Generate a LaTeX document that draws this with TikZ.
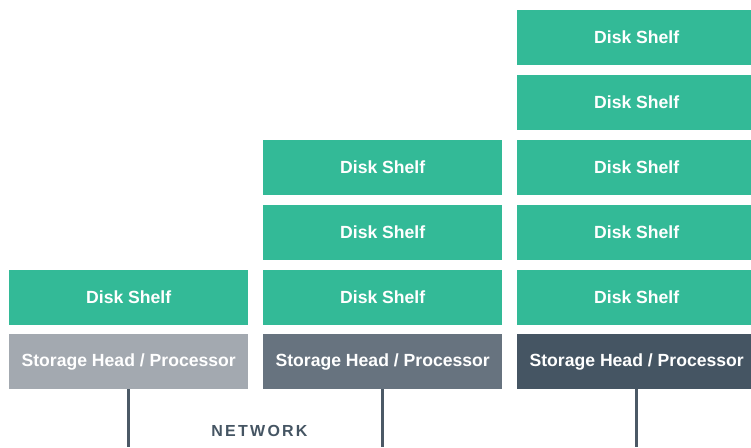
\documentclass[tikz,border=0pt]{standalone}
\usepackage{fontspec}
\setmainfont{Liberation Sans}
\definecolor{shelfgreen}{HTML}{33BA97}
\definecolor{headlight}{HTML}{A3A9B0}
\definecolor{headmid}{HTML}{67737F}
\definecolor{headdark}{HTML}{455563}
\definecolor{netcol}{HTML}{4B5966}
\begin{document}
\begin{tikzpicture}[x=1pt,y=-1pt,font=\bfseries\fontsize{17.6}{19}\selectfont,
	shelf/.style={fill=shelfgreen,text=white,minimum width=239pt,minimum height=55pt,inner sep=0pt,anchor=north west},
	head/.style={shelf,fill=#1},
	netline/.style={draw=netcol,line width=3pt}]
			\useasboundingbox (0,0) rectangle (751,447);
			\clip (0,0) rectangle (751,447);
			% storage heads
			\node[head=headlight] (h1) at (9,334) {Storage Head / Processor};
			\node[head=headmid] (h2) at (263,334) {Storage Head / Processor};
			\node[head=headdark] (h3) at (517,334) {Storage Head / Processor};
			% disk shelves
			\node[shelf] (a1) at (9,270) {Disk Shelf};
			\foreach \i in {1,2,3} \node[shelf] (b\i) at (263,{270-65*(\i-1)}) {Disk Shelf};
			\foreach \i in {1,...,5} \node[shelf] (c\i) at (517,{270-65*(\i-1)}) {Disk Shelf};
			% network
			\coordinate (n1) at (h1.south |- 0,447);
			\coordinate (n2) at (h2.south |- 0,447);
			\coordinate (n3) at (h3.south |- 0,447);
			\draw[netline] (h1.south)--(n1) (h2.south)--(n2) (h3.south)--(n3);
			\node[text=headdark,font=\bfseries\fontsize{16}{18}\selectfont\addfontfeature{LetterSpace=14}] (net) at (259.5,431) {NETWORK};
	\end{tikzpicture}
\end{document}
